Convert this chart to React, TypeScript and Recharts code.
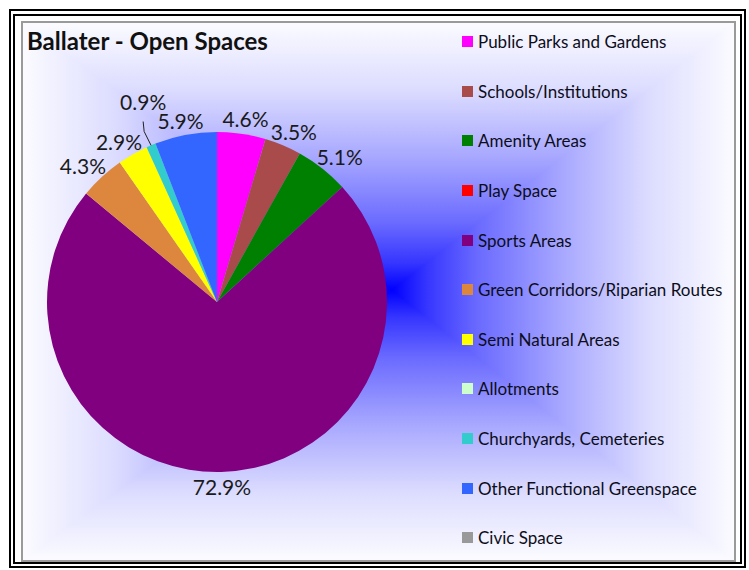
import React from 'react';
import { PieChart, Pie, Cell, Legend } from 'recharts';

const categories = [
  'Public Parks and Gardens',
  'Schools/Institutions',
  'Amenity Areas',
  'Play Space',
  'Sports Areas',
  'Green Corridors/Riparian Routes',
  'Semi Natural Areas',
  'Allotments',
  'Churchyards, Cemeteries',
  'Other Functional Greenspace',
  'Civic Space',
];

const shares = [4.6, 3.5, 5.1, 0, 72.9, 4.3, 2.9, 0, 0.9, 5.9, 0];

const COLORS = [
  '#FF00FF', '#A94B4B', '#008000', '#FF0000', '#800080', '#DD873E',
  '#FFFF00', '#CCFFCC', '#33CCCC', '#3366FF', '#999999',
];

const W = 749;
const H = 570;
// recharts adds its 5px margin to numeric cx/cy
const CX = 212;
const CY = 297;
const R = 170;

// inner plot box (gray frame) and the centre of the path gradient
const BOX = { x1: 23, y1: 23, x2: 734, y2: 560 };
const GC = { x: 392, y: 290 };

const FONT = 'Lato, "Open Sans", sans-serif';
const RADIAN = Math.PI / 180;

const pieData = categories.map((name, i) => ({ name, value: shares[i] }));

const GradStops = () => (
  <>
    <stop offset="0" stopColor="#0000ff" />
    <stop offset="0.1" stopColor="#3535ff" />
    <stop offset="0.25" stopColor="#6a6aff" />
    <stop offset="0.5" stopColor="#a8a8ff" />
    <stop offset="0.75" stopColor="#dcdcff" />
    <stop offset="1" stopColor="#fbfbff" />
  </>
);

const Background = () => {
  const { x1, y1, x2, y2 } = BOX;
  return (
    <svg width={W} height={H} style={{ position: 'absolute', left: 0, top: 0 }}>
      <defs>
        <linearGradient id="gTop" gradientUnits="userSpaceOnUse" x1={GC.x} y1={GC.y} x2={GC.x} y2={y1}><GradStops /></linearGradient>
        <linearGradient id="gBot" gradientUnits="userSpaceOnUse" x1={GC.x} y1={GC.y} x2={GC.x} y2={y2}><GradStops /></linearGradient>
        <linearGradient id="gLeft" gradientUnits="userSpaceOnUse" x1={GC.x} y1={GC.y} x2={x1} y2={GC.y}><GradStops /></linearGradient>
        <linearGradient id="gRight" gradientUnits="userSpaceOnUse" x1={GC.x} y1={GC.y} x2={x2} y2={GC.y}><GradStops /></linearGradient>
      </defs>
      <rect x={0} y={0} width={W} height={H} fill="#ffffff" />
      {/* left / right halves underneath, top / bottom triangles on top: no seams */}
      <rect x={x1} y={y1} width={GC.x - x1 + 1} height={y2 - y1} fill="url(#gLeft)" shapeRendering="crispEdges" />
      <rect x={GC.x} y={y1} width={x2 - GC.x} height={y2 - y1} fill="url(#gRight)" shapeRendering="crispEdges" />
      <polygon points={`${GC.x},${GC.y} ${x1},${y1} ${x2},${y1}`} fill="url(#gTop)" />
      <polygon points={`${GC.x},${GC.y} ${x1},${y2} ${x2},${y2}`} fill="url(#gBot)" />
      <rect x={10} y={10} width={735} height={557} fill="none" stroke="#000" strokeWidth={2} />
      <rect x={14} y={15} width={727} height={548} fill="none" stroke="#000" strokeWidth={2} />
      <rect x={22} y={22} width={713} height={539} fill="none" stroke="#9a9a9a" strokeWidth={2} />
    </svg>
  );
};

const renderLabel = (props: any) => {
  const { cx, cy, midAngle, outerRadius, value } = props;
  if (!value) return null;
  const cos = Math.cos(-midAngle * RADIAN);
  const sin = Math.sin(-midAngle * RADIAN);
  const r = outerRadius + 6;
  let x = cx + r * cos + 22 * cos;
  let y = cy + r * sin + 9 * sin;
  const text = `${value.toFixed(1)}%`;
  if (value < 1.5) {
    // thin slice: label pushed outward with a leader line
    x += 3;
    y -= 30;
    const ex = cx + outerRadius * cos;
    const ey = cy + outerRadius * sin;
    return (
      <g>
        <polyline points={`${x},${y + 20} ${x + 1},${y + 30} ${ex},${ey}`} fill="none" stroke="#222" strokeWidth={1} />
        <text x={x} y={y} textAnchor="middle" dominantBaseline="central" fontFamily={FONT} fontSize={21} fill="#1a1a1a">{text}</text>
      </g>
    );
  }
  return (
    <text x={x} y={y} textAnchor="middle" dominantBaseline="central" fontFamily={FONT} fontSize={21} fill="#1a1a1a">
      {text}
    </text>
  );
};

const renderLegend = () => (
  <div style={{ fontFamily: FONT, fontSize: 17, color: '#0d0d1a' }}>
    {categories.map((name, i) => (
      <div key={name} style={{ display: 'flex', alignItems: 'center', height: 49.6 }}>
        <span style={{ display: 'inline-block', width: 11, height: 11, background: COLORS[i], marginRight: 5 }} />
        <span>{name}</span>
      </div>
    ))}
  </div>
);

const App: React.FC = () => {
  return (
    <div style={{ position: 'absolute', left: 0, top: 0, width: W, height: H, overflow: 'hidden' }}>
      <Background />
      <div style={{ position: 'absolute', left: 27, top: 26, fontFamily: FONT, fontWeight: 700, fontSize: 24, color: '#111' }}>
        Ballater - Open Spaces
      </div>
      <div style={{ position: 'absolute', left: 0, top: 0 }}>
        <PieChart width={W} height={H}>
          <Pie
            data={pieData}
            dataKey="value"
            nameKey="name"
            cx={CX}
            cy={CY}
            outerRadius={R}
            startAngle={90}
            endAngle={-270}
            stroke="none"
            label={renderLabel}
            labelLine={false}
            isAnimationActive={false}
          >
            {pieData.map((d, i) => (
              <Cell key={d.name} fill={COLORS[i]} />
            ))}
          </Pie>
          <Legend
            layout="vertical"
            content={renderLegend}
            wrapperStyle={{ position: 'absolute', left: 462, top: 17, width: 285 }}
          />
        </PieChart>
      </div>
    </div>
  );
};

export default App;
